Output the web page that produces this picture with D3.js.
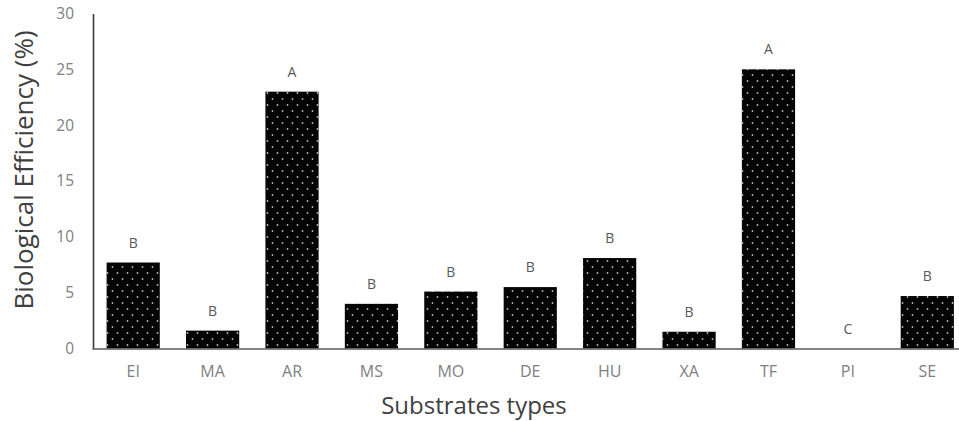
<!DOCTYPE html>
<html>
<head>
<meta charset="utf-8">
<script src="https://cdn.jsdelivr.net/npm/d3@7"></script>
<style>
  html, body { margin: 0; padding: 0; background: #fff; }
  svg { display: block; }
  text { font-family: "Open Sans", "Liberation Sans", sans-serif; }
</style>
</head>
<body>
<svg id="chart" width="959" height="421"></svg>
<script>
// Substrate types and their biological efficiency (%)
const categories = ["EI", "MA", "AR", "MS", "MO", "DE", "HU", "XA", "TF", "PI", "SE"];
const efficiency = [7.7, 1.6, 23.0, 4.0, 5.1, 5.5, 8.1, 1.5, 25.0, 0, 4.7];
const groups = ["B", "B", "A", "B", "B", "B", "B", "B", "A", "C", "B"];
const yTicks = [0, 5, 10, 15, 20, 25, 30];

const svg = d3.select("#chart");

// Dotted fill for the bars
const defs = svg.append("defs");
const pat = defs.append("pattern")
  .attr("id", "dots")
  .attr("patternUnits", "userSpaceOnUse")
  .attr("width", 10).attr("height", 12);
pat.append("rect").attr("width", 10).attr("height", 12).attr("fill", "#050505");
pat.append("circle").attr("cx", 2.5).attr("cy", 3).attr("r", 0.9).attr("fill", "#b8b8b8");
pat.append("circle").attr("cx", 7.5).attr("cy", 9).attr("r", 0.9).attr("fill", "#b8b8b8");

const x = d3.scaleBand()
  .domain(categories)
  .range([93.5, 967])
  .paddingInner(0.33)
  .paddingOuter(0.165);

const y = d3.scaleLinear()
  .domain([0, 30])
  .range([348.5, 13.5]);

// Bars
svg.append("g")
  .selectAll("rect")
  .data(categories)
  .join("rect")
  .attr("x", d => x(d))
  .attr("width", x.bandwidth())
  .attr("y", (d, i) => y(efficiency[i]))
  .attr("height", (d, i) => y(0) - y(efficiency[i]))
  .attr("fill", "url(#dots)");

// Significance letters above bars
svg.append("g")
  .selectAll("text")
  .data(categories)
  .join("text")
  .attr("x", d => x(d) + x.bandwidth() / 2)
  .attr("y", (d, i) => y(efficiency[i]) - 15)
  .attr("text-anchor", "middle")
  .attr("font-size", 14)
  .attr("fill", "#595959")
  .text((d, i) => groups[i]);

// Y axis
const yAxis = svg.append("g")
  .attr("transform", "translate(93,0)")
  .call(d3.axisLeft(y).tickValues(yTicks).tickSize(0).tickPadding(19));
yAxis.select(".domain").attr("stroke", "#3a3a3a").attr("stroke-width", 1.6);
yAxis.selectAll("text").attr("font-size", 15.5).attr("fill", "#808080")
  .attr("font-family", "'Open Sans', sans-serif");

// X axis
const xAxis = svg.append("g")
  .attr("transform", "translate(0,349)")
  .call(d3.axisBottom(x).tickSize(0).tickPadding(17));
xAxis.select(".domain").attr("stroke", "#5a5a5a").attr("stroke-width", 1.6)
  .attr("d", "M92.5,0H967");
xAxis.selectAll("text").attr("font-size", 16).attr("fill", "#808080")
  .attr("font-family", "'Open Sans', sans-serif");

// Axis titles
svg.append("text")
  .attr("transform", "translate(33,170) rotate(-90)")
  .attr("text-anchor", "middle")
  .attr("font-size", 26)
  .attr("fill", "#404040")
  .text("Biological Efficiency (%)");

svg.append("text")
  .attr("x", 474)
  .attr("y", 414)
  .attr("text-anchor", "middle")
  .attr("font-size", 24)
  .attr("fill", "#404040")
  .text("Substrates types");
</script>
</body>
</html>
